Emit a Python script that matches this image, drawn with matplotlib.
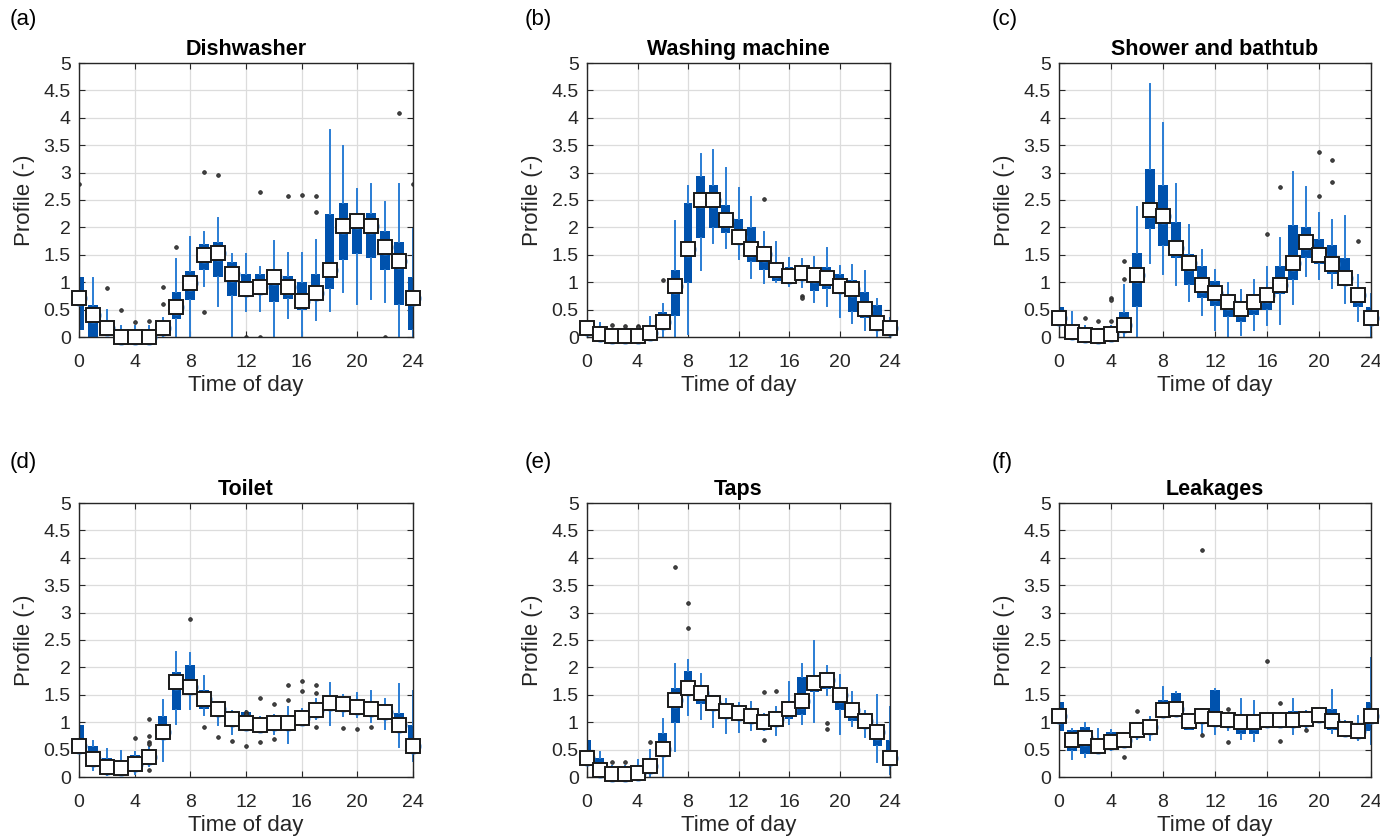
import numpy as np
import matplotlib.pyplot as plt

plt.rcParams['font.family'] = ['Liberation Sans', 'DejaVu Sans']

hours = np.arange(25)

# ---- (a) Dishwasher ----
dish_lo = [0, 0, 0.03, 0, 0, 0, 0, 0, 0, 0.93, 0.57, 0, 0.47, 0.48, 0, 0.34, 0, 0.31, 0.48, 0.82, 0.6, 0.7, 0.64, 0]
dish_q1 = [0.12, 0, 0.05, 0, 0, 0, 0.02, 0.32, 0.68, 1.23, 1.09, 0.75, 0.74, 0.77, 0.64, 0.69, 0.5, 0.72, 0.87, 1.4, 1.51, 1.44, 1.22, 0.58]
dish_med = [0.72, 0.4, 0.16, 0, 0, 0, 0.17, 0.54, 0.98, 1.5, 1.53, 1.15, 0.87, 0.91, 1.1, 0.92, 0.65, 0.81, 1.23, 2.03, 2.12, 2.02, 1.65, 1.38]
dish_q3 = [1.09, 0.59, 0.3, 0.05, 0.05, 0.05, 0.3, 0.83, 1.21, 1.7, 1.73, 1.37, 1.15, 1.15, 1.21, 1.12, 1.01, 1.15, 2.24, 2.45, 2.21, 2.27, 1.94, 1.73]
dish_hi = [1.97, 1.07, 0.49, 0.2, 0.2, 0.2, 0.35, 1.42, 1.82, 1.91, 2.18, 1.51, 1.52, 1.28, 1.76, 1.54, 1.54, 1.77, 3.78, 3.48, 2.7, 2.79, 2.47, 2.79]
dish_out = {0: [2.8], 2: [0.9], 3: [0.49], 4: [0.28], 5: [0.29], 6: [0.92, 0.61], 7: [1.65],
            9: [3.02, 0.46], 10: [2.96], 12: [0], 13: [2.65, 0], 15: [2.57], 16: [2.6],
            17: [2.57, 2.29], 22: [0], 23: [4.09]}

# ---- (b) Washing machine ----
wash_lo = [0, 0, 0, 0, 0, 0, 0, 0, 0.05, 1.23, 1.71, 1.62, 1.43, 1.07, 0.98, 1.0, 0.93, 0.92, 0.63, 0.57, 0.37, 0.26, 0.12, 0]
wash_q1 = [0.05, 0, 0, 0, 0, 0.02, 0.12, 0.38, 0.98, 1.8, 1.98, 1.9, 1.68, 1.36, 1.22, 1.03, 1.05, 1.05, 0.84, 0.87, 0.79, 0.46, 0.34, 0.16]
wash_med = [0.16, 0.05, 0.02, 0.02, 0.02, 0.08, 0.27, 0.93, 1.6, 2.5, 2.5, 2.14, 1.83, 1.6, 1.51, 1.23, 1.12, 1.16, 1.14, 1.07, 0.93, 0.87, 0.51, 0.25]
wash_q3 = [0.25, 0.15, 0.08, 0.08, 0.08, 0.15, 0.46, 1.22, 2.44, 2.93, 2.78, 2.4, 2.15, 2.0, 1.66, 1.3, 1.27, 1.2, 1.27, 1.27, 1.15, 1.04, 0.83, 0.59]
wash_hi = [0.35, 0.25, 0.15, 0.15, 0.15, 0.37, 0.6, 2.12, 2.76, 3.34, 3.41, 3.08, 2.71, 2.56, 1.91, 1.73, 1.45, 1.42, 1.46, 1.62, 1.3, 1.32, 1.21, 0.7]
wash_out = {2: [0.21], 3: [0.2], 4: [0.2, 0.18], 6: [1.04], 14: [2.52], 17: [0.75, 0.72]}

# ---- (c) Shower and bathtub ----
show_lo = [0, 0, 0, 0, 0, 0, 0, 1.35, 1.15, 0.95, 0.65, 0.4, 0.12, 0, 0.03, 0.12, 0.22, 0.23, 0.6, 1.12, 1.05, 0.9, 0.62, 0.29]
show_q1 = [0.2, 0.02, 0, 0, 0, 0.11, 0.55, 1.97, 1.66, 1.44, 0.95, 0.72, 0.57, 0.37, 0.28, 0.41, 0.49, 0.78, 1.04, 1.45, 1.34, 1.15, 0.96, 0.55]
show_med = [0.35, 0.1, 0.03, 0.02, 0.05, 0.22, 1.13, 2.32, 2.2, 1.62, 1.35, 0.95, 0.8, 0.63, 0.52, 0.63, 0.77, 0.95, 1.35, 1.73, 1.5, 1.33, 1.07, 0.77]
show_q3 = [0.54, 0.2, 0.1, 0.08, 0.1, 0.46, 1.53, 3.07, 2.78, 2.1, 1.52, 1.29, 1.02, 0.67, 0.65, 0.78, 0.88, 1.3, 2.04, 2.01, 1.78, 1.68, 1.44, 0.89]
show_hi = [0.78, 0.45, 0.2, 0.15, 0.2, 0.95, 2.38, 4.62, 3.9, 2.8, 2.05, 1.59, 1.23, 0.98, 0.85, 1.04, 1.27, 1.8, 3.02, 2.74, 2.26, 2.14, 2.2, 1.13]
show_out = {2: [0.34], 3: [0.29], 4: [0.72, 0.67, 0.3], 5: [1.39, 1.06], 16: [1.88], 17: [2.73],
            20: [3.37, 2.58], 21: [3.23, 2.82], 23: [1.76]}

# ---- (d) Toilet ----
toil_lo = [0.3, 0.13, 0.03, 0.05, 0.05, 0.2, 0.3, 0.97, 1.25, 1.13, 0.95, 0.79, 0.85, 0.83, 0.78, 0.62, 0.98, 1.05, 0.95, 1.11, 1.1, 1.0, 0.88, 0.54]
toil_q1 = [0.42, 0.19, 0.1, 0.08, 0.1, 0.25, 0.68, 1.22, 1.53, 1.25, 1.12, 0.98, 0.97, 0.87, 0.88, 0.9, 1.0, 1.12, 1.25, 1.22, 1.18, 1.12, 1.08, 0.82]
toil_med = [0.56, 0.33, 0.19, 0.17, 0.23, 0.36, 0.83, 1.73, 1.64, 1.42, 1.25, 1.05, 0.98, 0.94, 0.98, 0.98, 1.07, 1.23, 1.35, 1.33, 1.28, 1.24, 1.19, 0.95]
toil_q3 = [0.94, 0.56, 0.35, 0.3, 0.4, 0.5, 1.12, 1.91, 2.05, 1.59, 1.3, 1.18, 1.18, 1.08, 1.12, 1.05, 1.23, 1.35, 1.42, 1.43, 1.4, 1.35, 1.25, 1.17]
toil_hi = [1.57, 0.66, 0.52, 0.48, 0.45, 0.55, 1.4, 2.29, 2.26, 1.85, 1.33, 1.2, 1.2, 1.1, 1.13, 1.28, 1.25, 1.42, 1.71, 1.49, 1.54, 1.57, 1.43, 1.7]
toil_out = {4: [0.71], 5: [1.06, 0.75, 0.63, 0.6, 0.13], 8: [2.88], 9: [0.92], 10: [0.73],
            11: [0.65], 12: [1.19, 1.15, 0.57], 13: [1.45, 0.64], 14: [1.33, 0.69],
            15: [1.67, 1.4], 16: [1.75, 1.57], 17: [1.68, 1.53, 0.92], 19: [0.9],
            20: [0.88], 21: [0.92]}

# ---- (e) Taps ----
taps_lo = [0.05, 0, 0, 0, 0, 0, 0, 0.48, 1.14, 1.05, 0.91, 0.8, 0.83, 0.85, 0.85, 0.76, 0.97, 0.97, 1.0, 1.5, 0.79, 0.93, 0.73, 0.28]
taps_q1 = [0.2, 0.05, 0, 0, 0.02, 0.05, 0.36, 0.98, 1.49, 1.33, 1.25, 1.1, 1.07, 1.0, 0.9, 0.95, 1.05, 1.13, 1.55, 1.6, 1.22, 1.03, 0.9, 0.57]
taps_med = [0.34, 0.12, 0.05, 0.06, 0.07, 0.2, 0.51, 1.41, 1.62, 1.53, 1.35, 1.21, 1.16, 1.11, 1.01, 1.05, 1.25, 1.38, 1.71, 1.77, 1.49, 1.22, 1.03, 0.83]
taps_q3 = [0.68, 0.35, 0.1, 0.1, 0.15, 0.3, 0.81, 1.62, 1.93, 1.63, 1.5, 1.35, 1.28, 1.2, 1.12, 1.2, 1.35, 1.82, 1.87, 1.85, 1.6, 1.35, 1.15, 0.9]
taps_hi = [1.27, 0.45, 0.2, 0.2, 0.31, 0.49, 1.05, 2.07, 2.14, 1.88, 1.5, 1.42, 1.35, 1.37, 1.15, 1.28, 1.74, 2.07, 2.48, 2.02, 1.86, 1.56, 1.2, 1.49]
taps_out = {2: [0.28], 3: [0.28], 5: [0.63], 7: [3.84], 8: [3.17, 2.71], 14: [1.56, 0.68],
            15: [1.57], 19: [0.99, 0.87]}

# ---- (f) Leakages ----
leak_lo = [0.6, 0.33, 0.37, 0.5, 0.5, 0.55, 0.7, 0.68, 1.15, 1.12, 0.85, 0.8, 0.78, 0.85, 0.7, 0.65, 0.92, 0.95, 0.78, 0.9, 1.05, 0.8, 0.78, 0.67]
leak_q1 = [0.84, 0.47, 0.42, 0.5, 0.52, 0.6, 0.75, 0.8, 1.15, 1.12, 0.85, 1.0, 1.0, 0.95, 0.79, 0.78, 0.92, 0.95, 0.92, 0.95, 1.05, 0.85, 0.8, 0.75]
leak_med = [1.11, 0.68, 0.71, 0.57, 0.63, 0.68, 0.86, 0.92, 1.22, 1.24, 1.03, 1.11, 1.05, 1.04, 1.0, 1.0, 1.04, 1.04, 1.04, 1.06, 1.14, 1.02, 0.88, 0.84]
leak_q3 = [1.37, 0.86, 0.92, 0.65, 0.82, 0.75, 0.95, 1.0, 1.41, 1.53, 1.1, 1.2, 1.59, 1.12, 1.05, 1.08, 1.12, 1.12, 1.2, 1.17, 1.2, 1.25, 1.0, 0.92]
leak_hi = [2.17, 0.88, 0.98, 0.88, 0.85, 0.78, 0.98, 1.1, 1.65, 1.55, 1.12, 1.22, 1.6, 1.15, 1.43, 1.38, 1.15, 1.15, 1.42, 1.2, 1.25, 1.59, 1.02, 1.11]
leak_out = {5: [0.37], 6: [1.21], 11: [4.14, 0.76], 13: [1.25, 0.63], 16: [2.12],
            17: [1.35, 0.66], 19: [0.86]}

BOX = '#0052ad'
WHISK = '#2a7dd4'


def draw(ax, lo, q1, med, q3, hi, out, title):
    # hour 24 repeats hour 0
    lo, q1, med, q3, hi = [v + v[:1] for v in (lo, q1, med, q3, hi)]
    out = dict(out)
    if 0 in out:
        out[24] = out[0]
    stats = []
    for h in hours:
        stats.append(dict(whislo=lo[h], q1=q1[h], med=med[h], q3=q3[h], whishi=hi[h],
                          fliers=out.get(h, [])))
    ax.bxp(stats, positions=hours, widths=0.7, patch_artist=True, showcaps=False,
           manage_ticks=False,
           boxprops=dict(facecolor=BOX, edgecolor=BOX, linewidth=0),
           whiskerprops=dict(color=WHISK, linewidth=1.4),
           medianprops=dict(linewidth=0),
           flierprops=dict(marker='o', markersize=2.6, markerfacecolor='#444444',
                           markeredgecolor='#222222', markeredgewidth=0.6))
    ax.plot(hours, med, 'o', ms=10.5, mfc='none', mec='#2d7fd6', mew=1.0,
            clip_on=False, zorder=4)
    ax.plot(hours, med, 's', ms=10, mfc='white', mec='#1a1a1a', mew=1.4,
            clip_on=False, zorder=5)
    ax.set_xlim(0, 24)
    ax.set_ylim(0, 5)
    ax.set_xticks(np.arange(0, 25, 4))
    ax.set_yticks(np.arange(0, 5.01, 0.5))
    ax.set_yticklabels(['0', '0.5', '1', '1.5', '2', '2.5', '3', '3.5', '4', '4.5', '5'])
    ax.grid(True, color='#dcdcdc', linewidth=0.9)
    ax.set_axisbelow(True)
    ax.tick_params(direction='in', length=4, top=True, right=True, labelsize=14,
                   colors='#262626')
    ax.tick_params(axis='x', pad=12)
    ax.tick_params(axis='y', pad=6)
    for s in ax.spines.values():
        s.set_color('#262626')
        s.set_linewidth(1.0)
    ax.set_title(title, fontsize=15.5, fontweight='bold', pad=6)
    ax.set_xlabel('Time of day', fontsize=16, color='#262626', labelpad=3)
    ax.set_ylabel('Profile (-)', fontsize=16, color='#262626', labelpad=6)


fig = plt.figure(figsize=(13.8, 8.4), dpi=100)

lefts = [79 / 1380, 587 / 1380, 1059 / 1380]
widths = [334 / 1380, 303 / 1380, 312 / 1380]
bottoms = [1 - 337 / 840, 1 - 777 / 840]
h = 274 / 840

panels = [
    (dish_lo, dish_q1, dish_med, dish_q3, dish_hi, dish_out, 'Dishwasher', '(a)'),
    (wash_lo, wash_q1, wash_med, wash_q3, wash_hi, wash_out, 'Washing machine', '(b)'),
    (show_lo, show_q1, show_med, show_q3, show_hi, show_out, 'Shower and bathtub', '(c)'),
    (toil_lo, toil_q1, toil_med, toil_q3, toil_hi, toil_out, 'Toilet', '(d)'),
    (taps_lo, taps_q1, taps_med, taps_q3, taps_hi, taps_out, 'Taps', '(e)'),
    (leak_lo, leak_q1, leak_med, leak_q3, leak_hi, leak_out, 'Leakages', '(f)'),
]
label_x = [10 / 1380, 525 / 1380, 992 / 1380]
label_y = [1 - 20 / 840, 1 - 462 / 840]

for i, p in enumerate(panels):
    r, c = divmod(i, 3)
    ax = fig.add_axes([lefts[c], bottoms[r], widths[c], h])
    draw(ax, *p[:7])
    fig.text(label_x[c], label_y[r], p[7], fontsize=16, va='center', ha='left')

fig.savefig('out.png', dpi=100)
